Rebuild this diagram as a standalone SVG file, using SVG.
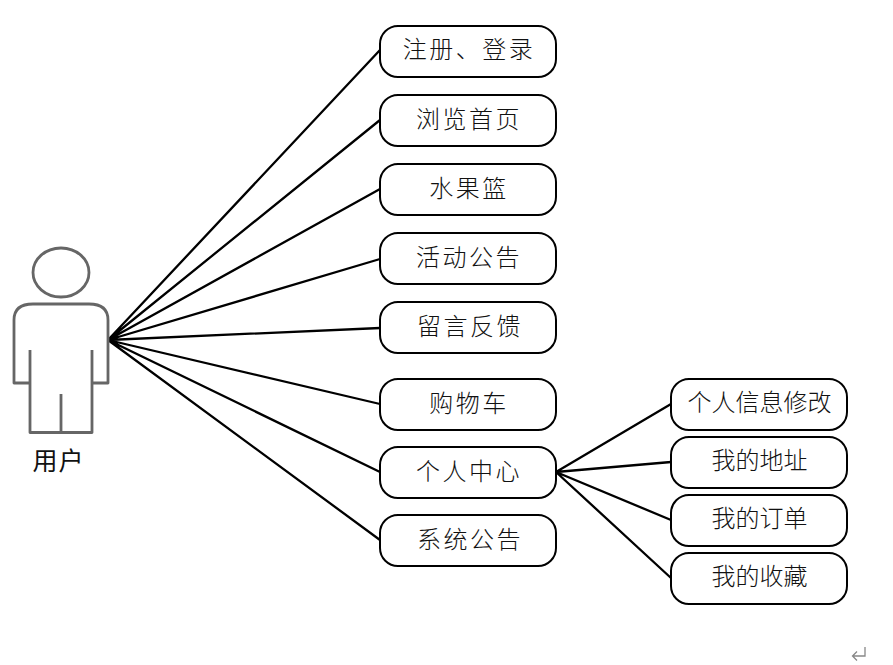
<svg xmlns="http://www.w3.org/2000/svg" width="893" height="665" viewBox="0 0 893 665">
<style>
.box{fill:#fff;stroke:#000;stroke-width:2}
.lbl{font-family:"Noto Sans CJK SC","Liberation Sans",sans-serif;font-size:24px;font-weight:300;fill:#111;text-anchor:middle;dominant-baseline:central}
.l{letter-spacing:2.500px}
.c{stroke:#000;stroke-width:2.300;fill:none}
.u{fill:none;stroke:#666;stroke-width:2.800;stroke-linejoin:round}
</style>
<rect width="893" height="665" fill="#fff"/>
<g id="connectors">
<path class="c" d="M108 340L380 50M108 340L380 120M108 340L380 189M108 340L380 259M108 340L380 328M108 340L380 404M108 340L380 472M108 340L380 540"/>
<path class="c" d="M556 472L671 404M556 472L671 462M556 472L671 520M556 472L671 578"/>
</g>
<g id="user">
<ellipse class="u" cx="61" cy="272.500" rx="28" ry="24.500"/>
<path class="u" d="M30 383H14V320Q14 304 33 304H89Q108 304 108 320V383H92"/>
<path class="u" d="M30 350V432.500H92V350M61 394V432.500"/>
<text class="lbl" x="58.500" y="459" style="font-weight:400;font-size:25px;letter-spacing:1px">用户</text>
</g>
<g id="n1"><rect class="box" x="380" y="26" width="176" height="51" rx="18"/><text class="lbl l" x="469" y="47">注册、登录</text></g>
<g id="n2"><rect class="box" x="380" y="95" width="176" height="51" rx="18"/><text class="lbl l" x="469" y="117">浏览首页</text></g>
<g id="n3"><rect class="box" x="380" y="164" width="176" height="51" rx="18"/><text class="lbl l" x="469" y="186">水果篮</text></g>
<g id="n4"><rect class="box" x="380" y="233" width="176" height="51" rx="18"/><text class="lbl l" x="469" y="255">活动公告</text></g>
<g id="n5"><rect class="box" x="380" y="302" width="176" height="51" rx="18"/><text class="lbl l" x="470" y="324">留言反馈</text></g>
<g id="n6"><rect class="box" x="380" y="379" width="176" height="51" rx="18"/><text class="lbl l" x="469" y="401">购物车</text></g>
<g id="n7"><rect class="box" x="380" y="447" width="176" height="51" rx="18"/><text class="lbl l" x="469" y="469">个人中心</text></g>
<g id="n8"><rect class="box" x="380" y="515" width="176" height="51" rx="18"/><text class="lbl l" x="470" y="537">系统公告</text></g>
<g id="n9"><rect class="box" x="671" y="379" width="176" height="51" rx="18"/><text class="lbl" x="759.500" y="400">个人信息修改</text></g>
<g id="n10"><rect class="box" x="671" y="437" width="176" height="51" rx="18"/><text class="lbl" x="759.500" y="458">我的地址</text></g>
<g id="n11"><rect class="box" x="671" y="495" width="176" height="51" rx="18"/><text class="lbl" x="759.500" y="516">我的订单</text></g>
<g id="n12"><rect class="box" x="671" y="553" width="176" height="51" rx="18"/><text class="lbl" x="759.500" y="574">我的收藏</text></g>
<path d="M865 647V656H853M857 651.500L852.500 656L857 660.500" fill="none" stroke="#888" stroke-width="1.300"/>
</svg>
